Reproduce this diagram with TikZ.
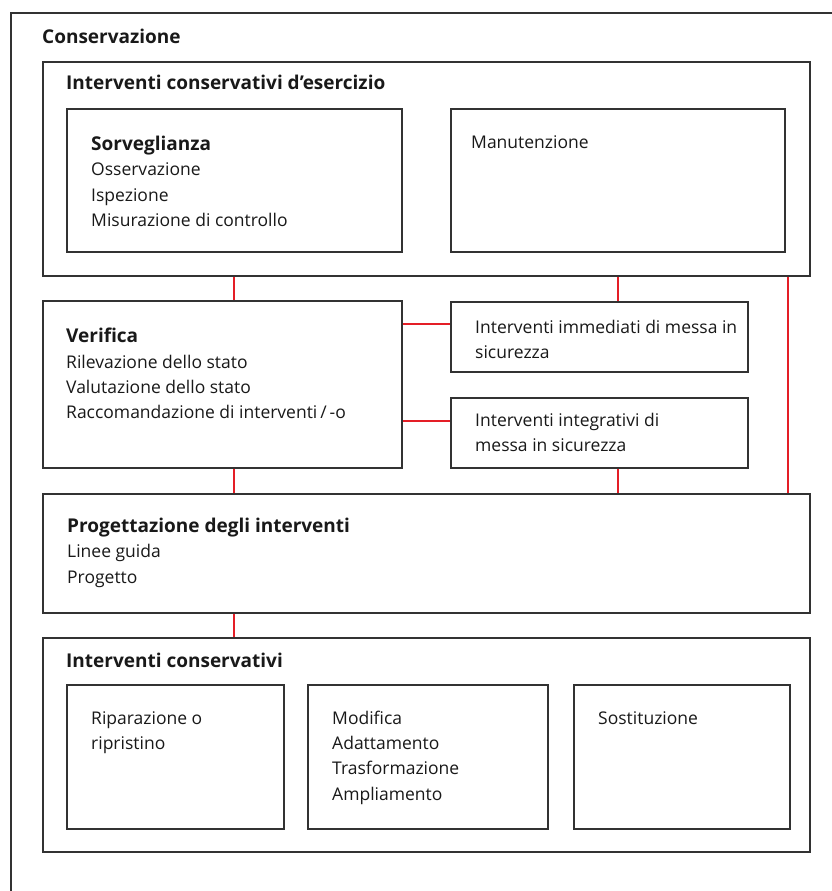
\documentclass[tikz,border=0pt]{standalone}
\usepackage{fontspec}
\setmainfont{Open Sans}
\definecolor{linkred}{RGB}{228,30,38}
\definecolor{boxline}{RGB}{50,50,50}
\newcommand{\mystrut}{\rule{0pt}{14pt}}
\newcommand{\hd}[1]{{\fontsize{19}{25.3}\selectfont\bfseries #1}}
\begin{document}
\begin{tikzpicture}[x=1pt,y=-1pt,
  box/.style={draw=boxline, line width=1.6pt, inner sep=0pt, anchor=north west},
  link/.style={draw=linkred, line width=2.2pt},
  txt/.style={anchor=north west, inner sep=0pt, align=left, text=black!90,
    font=\fontsize{17.5}{25.3}\selectfont},
  ttl/.style={txt, font=\fontsize{19}{25.3}\selectfont\bfseries}]
\useasboundingbox (0,0) rectangle (832,891);
\clip (0,0) rectangle (832,891);
\fill[white] (0,0) rectangle (832,891);
% outer frame
\node[box, minimum width=840pt, minimum height=900pt] (outer) at (10,12) {};
\node[ttl] (tout) at (42,29) {\mystrut Conservazione};
% boxes
\node[box, minimum width=767pt, minimum height=214pt] (eser) at (42,61) {};
\node[box, minimum width=335pt, minimum height=143pt] (sorv) at (66,108) {};
\node[box, minimum width=334pt, minimum height=143pt] (manu) at (450,108) {};
\node[box, minimum width=359pt, minimum height=167pt] (verif) at (42,300) {};
\node[box, minimum width=297pt, minimum height=70pt] (immed) at (450,301) {};
\node[box, minimum width=297pt, minimum height=70pt] (integ) at (450,397) {};
\node[box, minimum width=767pt, minimum height=119pt] (prog) at (42,493) {};
\node[box, minimum width=767pt, minimum height=214pt] (cons) at (42,637) {};
\node[box, minimum width=217pt, minimum height=144pt] (ripa) at (66,684) {};
\node[box, minimum width=240pt, minimum height=144pt] (modi) at (307,684) {};
\node[box, minimum width=216pt, minimum height=144pt] (sost) at (573,684) {};
% texts
\node[ttl] (tes) at (66,75) {\mystrut Interventi conservativi d’esercizio};
\node[txt] (tsorv) at (91,136) {\mystrut\hd{Sorveglianza}\\Osservazione\\Ispezione\\Misurazione di controllo};
\node[txt] (tmanu) at (471,134) {\mystrut Manutenzione};
\node[txt] (tverif) at (66,328) {\mystrut\hd{Verifica}\\Rilevazione dello stato\\Valutazione dello stato\\Raccomandazione di interventi\,/\,-o};
\node[txt] (timm) at (475,319) {\mystrut Interventi immediati di messa in\\sicurezza};
\node[txt] (tint) at (475,412) {\mystrut Interventi integrativi di\\messa in sicurezza};
\node[txt] (tprog) at (67,518) {\mystrut\hd{Progettazione degli interventi}\\Linee guida\\Progetto};
\node[ttl] (tcons) at (66,653) {\mystrut Interventi conservativi};
\node[txt] (tripa) at (91,710) {\mystrut Riparazione o\\ripristino};
\node[txt] (tmodi) at (332,710) {\mystrut Modifica\\Adattamento\\Trasformazione\\Ampliamento};
\node[txt] (tsost) at (598,710) {\mystrut Sostituzione};
% connectors
\draw[link] (sorv.center |- eser.south) -- (sorv.center |- verif.north);
\draw[link] (manu.center |- eser.south) -- (manu.center |- immed.north);
\draw[link] (manu.center |- integ.south) -- (manu.center |- prog.north);
\draw[link] ([xshift=2pt]manu.east |- eser.south) -- ([xshift=2pt]manu.east |- prog.north);
\draw[link] ([yshift=13pt]immed.west) -- ([yshift=13pt]immed.west -| verif.east);
\draw[link] ([yshift=12pt]integ.west) -- ([yshift=12pt]integ.west -| verif.east);
\draw[link] (sorv.center |- verif.south) -- (sorv.center |- prog.north);
\draw[link] (sorv.center |- prog.south) -- (sorv.center |- cons.north);
\end{tikzpicture}
\end{document}
